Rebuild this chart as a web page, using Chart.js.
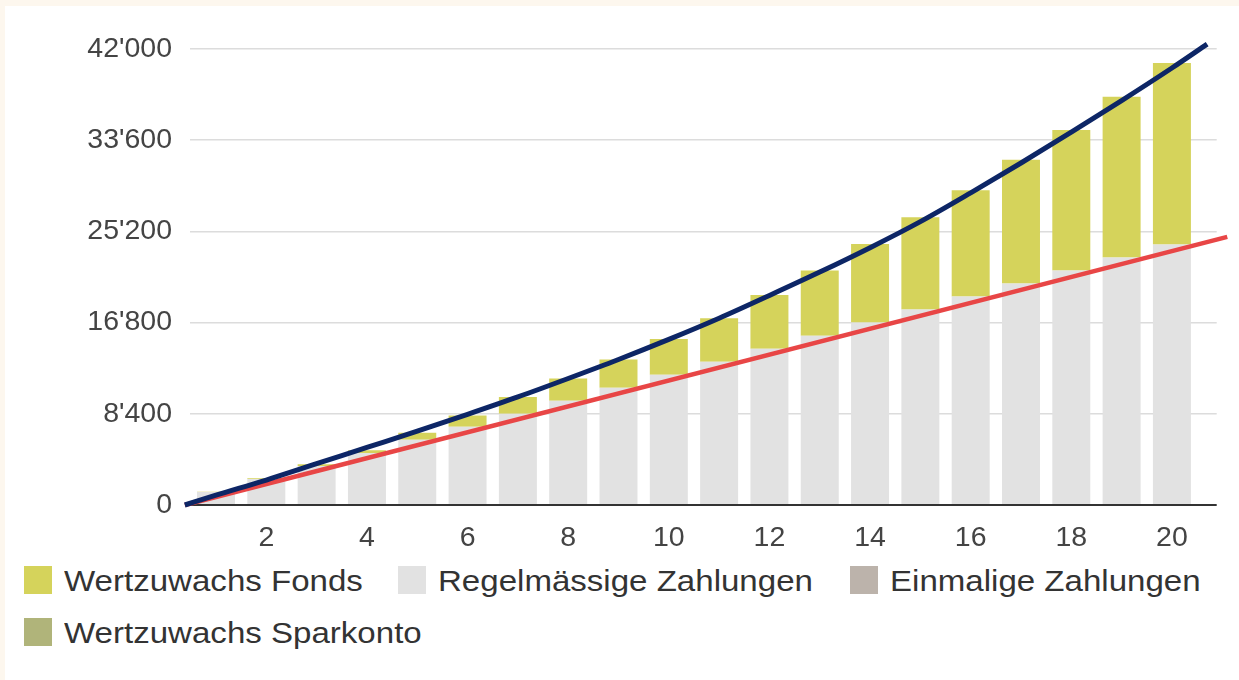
<!DOCTYPE html>
<html lang="de">
<head>
<meta charset="utf-8">
<title>Sparplan Fonds</title>
<script src="https://cdn.jsdelivr.net/npm/chart.js@4.4.0/dist/chart.umd.min.js"></script>
<style>
  html, body { margin: 0; padding: 0; }
  body {
    position: relative;
    width: 1239px;
    height: 680px;
    overflow: hidden;
    background: #fdf7ee;
    font-family: "Liberation Sans", Arial, sans-serif;
  }
  #panel { position: absolute; left: 5px; top: 6px; right: 0; bottom: 0; background: #fff; }
  #chartBox { position: absolute; left: 0; top: 0; width: 1239px; height: 560px; }
  .item { position: absolute; display: flex; align-items: center; height: 32px; }
  .swatch { width: 28px; height: 28px; margin-right: 12px; }
  .label {
    font-size: 29px; line-height: 1; color: #333; padding-top: 3px; white-space: nowrap;
    transform: scaleX(1.14); transform-origin: left center;
  }
</style>
</head>
<body>
<div id="panel"></div>
<div id="chartBox"><canvas id="sparChart"></canvas></div>
<div id="legend"></div>

<script>
// Jahre (Kategorien) und Werte
const years = [1, 2, 3, 4, 5, 6, 7, 8, 9, 10, 11, 12, 13, 14, 15, 16, 17, 18, 19, 20];
const regelmaessig = [1200, 2400, 3600, 4800, 6000, 7200, 8400, 9600, 10800, 12000,
                      13200, 14400, 15600, 16800, 18000, 19200, 20400, 21600, 22800, 24000];
const einmalig = [0, 0, 0, 0, 0, 0, 0, 0, 0, 0, 0, 0, 0, 0, 0, 0, 0, 0, 0, 0];
const sparkonto = [0, 0, 0, 0, 0, 0, 0, 0, 0, 0, 0, 0, 0, 0, 0, 0, 0, 0, 0, 0];
const fonds = [20, 60, 150, 250, 650, 1050, 1550, 2050, 2600, 3300,
               4000, 4950, 6000, 7250, 8500, 9800, 11400, 12950, 14800, 16700];

// Linien: Summe der Einzahlungen (rot) und Kapital Fonds (blau)
const redYears = [0.38, 21.1];
const redValues = [0, 24700];
const blueYears = [0.38, 1, 2, 3, 4, 5, 6, 7, 8, 9, 10, 11, 12, 13, 14, 15, 16, 17, 18, 19, 20, 20.7];
const blueValues = [0, 900, 2300, 3800, 5300, 6800, 8350, 9950, 11650, 13400, 15250,
                    17200, 19300, 21450, 23700, 26100, 28750, 31500, 34350, 37250, 40250, 42450];

const xTicks = [2, 4, 6, 8, 10, 12, 14, 16, 18, 20];
const yTicks = [0, 8400, 16800, 25200, 33600, 42000];

const legendItems = [
  { label: 'Wertzuwachs Fonds', color: '#d5d35b', left: 24, top: 564 },
  { label: 'Regelmässige Zahlungen', color: '#e2e2e2', left: 398, top: 564 },
  { label: 'Einmalige Zahlungen', color: '#bcb3ab', left: 850, top: 564 },
  { label: 'Wertzuwachs Sparkonto', color: '#b0b47a', left: 24, top: 616 }
];

const tickFont = { family: '"Liberation Sans", Arial, sans-serif', size: 28.5 };

function fmt(v) {
  return String(v).replace(/\B(?=(\d{3})+(?!\d))/g, "'");
}
function toPoints(xs, ys) {
  return xs.map((x, i) => ({ x: x, y: ys[i] }));
}

// Legende
const legendEl = document.getElementById('legend');
legendItems.forEach(it => {
  const d = document.createElement('div');
  d.className = 'item';
  d.style.left = it.left + 'px';
  d.style.top = it.top + 'px';
  d.innerHTML = '<span class="swatch" style="background:' + it.color + '"></span><span class="label">' + it.label + '</span>';
  legendEl.appendChild(d);
});

const ctx = document.getElementById('sparChart').getContext('2d');
new Chart(ctx, {
  data: {
    datasets: [
      {
        type: 'line',
        label: 'Kapital Fonds',
        data: toPoints(blueYears, blueValues),
        borderColor: '#0d2666',
        borderWidth: 5,
        pointRadius: 0,
        cubicInterpolationMode: 'monotone',
        clip: false,
        stack: 'blue',
        order: 0
      },
      {
        type: 'line',
        label: 'Summe Einzahlungen',
        data: toPoints(redYears, redValues),
        borderColor: '#e84646',
        borderWidth: 4.5,
        pointRadius: 0,
        clip: false,
        stack: 'red',
        order: 1
      },
      {
        type: 'bar',
        label: 'Regelmässige Zahlungen',
        data: toPoints(years, regelmaessig),
        backgroundColor: '#e2e2e2',
        stack: 'bars',
        order: 2
      },
      {
        type: 'bar',
        label: 'Einmalige Zahlungen',
        data: toPoints(years, einmalig),
        backgroundColor: '#bcb3ab',
        stack: 'bars',
        order: 2
      },
      {
        type: 'bar',
        label: 'Wertzuwachs Sparkonto',
        data: toPoints(years, sparkonto),
        backgroundColor: '#b0b47a',
        stack: 'bars',
        order: 2
      },
      {
        type: 'bar',
        label: 'Wertzuwachs Fonds',
        data: toPoints(years, fonds),
        backgroundColor: '#d5d35b',
        stack: 'bars',
        order: 2
      }
    ]
  },
  options: {
    responsive: true,
    maintainAspectRatio: false,
    animation: false,
    barPercentage: 0.755,
    categoryPercentage: 1,
    layout: { padding: { left: 0, right: 22.3, top: 49, bottom: 0 } },
    plugins: {
      legend: { display: false },
      tooltip: { enabled: false }
    },
    scales: {
      x: {
        type: 'linear',
        offset: false,
        stacked: true,
        min: 0.483,
        max: 20.89,
        afterBuildTicks: s => { s.ticks = xTicks.map(v => ({ value: v })); },
        afterFit: s => { s.height = 55; },
        grid: { display: false, drawTicks: false, offset: false },
        border: { display: false },
        ticks: { padding: 16, color: '#444', font: tickFont, callback: v => String(v) }
      },
      y: {
        stacked: true,
        min: 0,
        max: 42000,
        afterBuildTicks: s => { s.ticks = yTicks.map(v => ({ value: v })); },
        afterFit: s => { s.width = 190; },
        border: { display: false },
        grid: {
          drawTicks: false,
          color: c => (c.tick && c.tick.value === 0) ? '#333' : '#dcdcdc',
          lineWidth: c => (c.tick && c.tick.value === 0) ? 2 : 1.5
        },
        ticks: { padding: 18, color: '#444', font: tickFont, callback: v => fmt(v) }
      }
    }
  }
});
</script>
</body>
</html>
